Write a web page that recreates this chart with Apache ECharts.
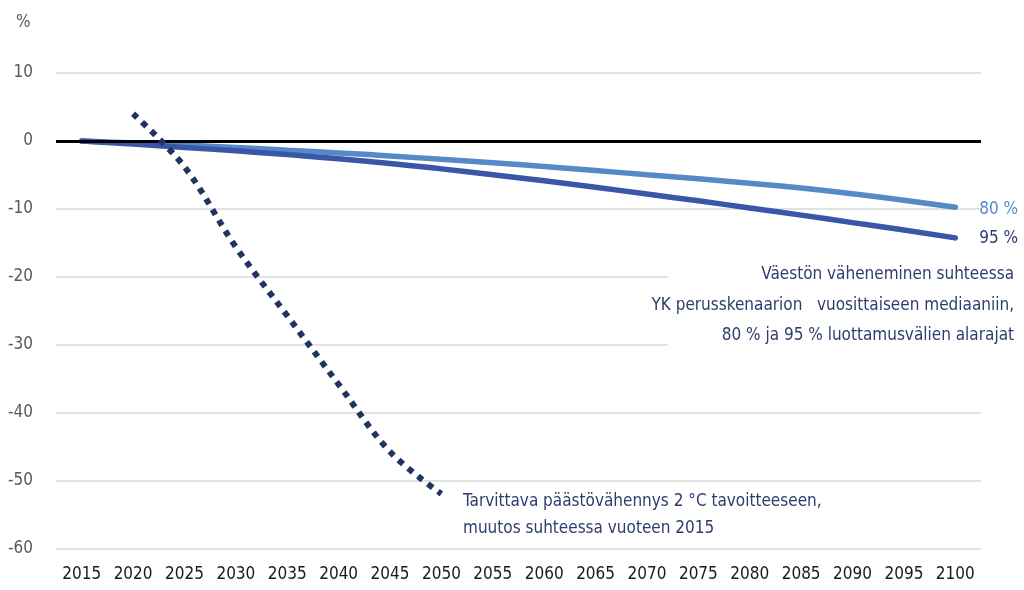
<!DOCTYPE html>
<html>
<head>
<meta charset="utf-8">
<script src="https://cdn.jsdelivr.net/npm/echarts@6/dist/echarts.min.js"></script>
<style>
html,body{margin:0;padding:0;background:#fff;}
#c{width:1024px;height:590px;}
</style>
</head>
<body>
<div id="c"></div>
<script>
var years = ['2015','2020','2025','2030','2035','2040','2045','2050','2055','2060','2065','2070','2075','2080','2085','2090','2095','2100'];
var pop80 = [0,-0.3,-0.6,-0.95,-1.35,-1.75,-2.2,-2.7,-3.2,-3.75,-4.35,-4.95,-5.55,-6.2,-6.9,-7.75,-8.7,-9.75];
var pop95 = [0,-0.45,-0.95,-1.45,-2.0,-2.6,-3.3,-4.1,-4.95,-5.85,-6.8,-7.8,-8.8,-9.85,-10.9,-12.0,-13.1,-14.25];
var emissions = [null,4.0,-3.8,-15.6,-25.7,-35.8,-45.7,-51.9,null,null,null,null,null,null,null,null,null,null];
var yMin = -60, yMax = 10, yStep = 10;

var FONT = "'Liberation Sans Narrow','DejaVu Sans Condensed','Roboto',sans-serif";
var NAVY = '#2E3D70';
var LIGHT = '#5689C8';
var DARK = '#3A56A6';
var DOT = '#1F3461';

var chart = echarts.init(document.getElementById('c'), null, {renderer:'canvas'});
chart.setOption({
  animation:false,
  backgroundColor:'#ffffff',
  grid:{left:56, right:43, top:73, bottom:41},
  xAxis:{
    type:'category',
    data:years,
    boundaryGap:true,
    axisLine:{show:false},
    axisTick:{show:false},
    axisLabel:{fontFamily:FONT, fontSize:17, color:'#1a1a1a', margin:17, interval:0}
  },
  yAxis:{
    type:'value',
    min:yMin, max:yMax, interval:yStep,
    axisLine:{show:false},
    axisTick:{show:false},
    axisLabel:{fontFamily:FONT, fontSize:17, color:'#595959', margin:23},
    splitLine:{lineStyle:{color:'#d9d9d9', width:1.5}}
  },
  graphic:{
    elements:[
      {type:'text', z:101, left:16, top:14, style:{text:'%', font:'17px '+FONT, fill:'#595959'}},
      {type:'rect', z:100, left:668, top:262, shape:{x:0, y:0, width:356, height:88}, style:{fill:'#ffffff'}},
      {type:'text', z:101, right:10, top:266, style:{text:'Väestön väheneminen suhteessa', font:'17px '+FONT, fill:NAVY, align:'right'}},
      {type:'text', z:101, right:10, top:297, style:{text:'YK perusskenaarion   vuosittaiseen mediaaniin,', font:'17px '+FONT, fill:NAVY, align:'right'}},
      {type:'text', z:101, right:10, top:327, style:{text:'80 % ja 95 % luottamusvälien alarajat', font:'17px '+FONT, fill:NAVY, align:'right'}},
      {type:'text', z:101, left:463, top:493, style:{text:'Tarvittava päästövähennys 2 °C tavoitteeseen,', font:'17px '+FONT, fill:NAVY}},
      {type:'text', z:101, left:463, top:520, style:{text:'muutos suhteessa vuoteen 2015', font:'17px '+FONT, fill:NAVY}}
    ]
  },
  series:[
    {
      type:'line', data:[], z:1, silent:true,
      markLine:{
        silent:true, symbol:['none','none'], label:{show:false},
        lineStyle:{color:'#000', width:3, type:'solid'},
        data:[{yAxis:0}]
      }
    },
    {
      name:'80 %', type:'line', data:pop80, z:3, smooth:true, showSymbol:false,
      lineStyle:{color:LIGHT, width:5.5, cap:'round'},
      endLabel:{show:true, formatter:'80 %', fontFamily:FONT, fontSize:17, color:LIGHT, distance:24, offset:[0,2]}
    },
    {
      name:'95 %', type:'line', data:pop95, z:4, smooth:true, showSymbol:false,
      lineStyle:{color:DARK, width:5.5, cap:'round'},
      endLabel:{show:true, formatter:'95 %', fontFamily:FONT, fontSize:17, color:NAVY, distance:24, offset:[0,1]}
    },
    {
      name:'päästöt', type:'line', data:emissions, z:5, smooth:0.35, showSymbol:false, connectNulls:false,
      lineStyle:{color:DOT, width:6, type:[6,6.5], cap:'butt'}
    }
  ]
});
</script>
</body>
</html>
